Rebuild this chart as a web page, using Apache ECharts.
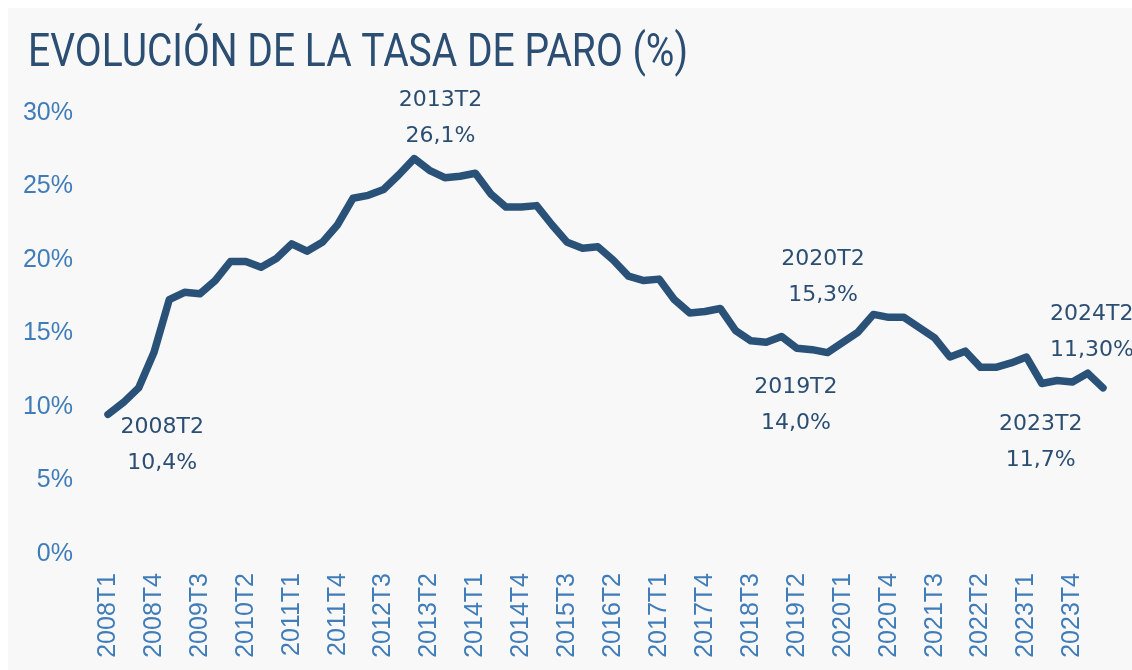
<!DOCTYPE html>
<html>
<head>
<meta charset="utf-8">
<script src="https://cdn.jsdelivr.net/npm/echarts@6/dist/echarts.min.js"></script>
<style>
html,body{margin:0;padding:0;background:#ffffff;}
#chart{width:1132px;height:670px;}
</style>
</head>
<body>
<div id="chart"></div>
<script>
// ---- DATA ----
const titleText = 'EVOLUCIÓN DE LA TASA DE PARO (%)';
const quarters = [];
for (let y = 2008; y <= 2024; y++) {
  for (let q = 1; q <= 4; q++) {
    if (y === 2024 && q > 2) break;
    quarters.push(y + 'T' + q);
  }
}
const unemploymentRate = [
  9.5, 10.3, 11.3, 13.7, 17.3, 17.8, 17.7, 18.6,
  19.9, 19.9, 19.5, 20.1, 21.1, 20.6, 21.2, 22.4,
  24.2, 24.4, 24.8, 25.8, 26.9, 26.1, 25.6, 25.7,
  25.9, 24.5, 23.6, 23.6, 23.7, 22.4, 21.2, 20.8,
  20.9, 20.0, 18.9, 18.6, 18.7, 17.3, 16.4, 16.5,
  16.7, 15.2, 14.5, 14.4, 14.8, 14.0, 13.9, 13.7,
  14.4, 15.1, 16.3, 16.1, 16.1, 15.4, 14.7, 13.4,
  13.8, 12.7, 12.7, 13.0, 13.4, 11.6, 11.8, 11.7,
  12.3, 11.3
];
const yTicks = [0, 5, 10, 15, 20, 25, 30];
const annotationCats = ['2008T2', '2013T2', '2020T2', '2019T2', '2023T2', '2024T2'];
const annotationTexts = ['2008T2\n10,4%', '2013T2\n26,1%', '2020T2\n15,3%', '2019T2\n14,0%', '2023T2\n11,7%', '2024T2\n11,30%'];

// ---- PLACEMENT (styling, not data) ----
const annotationPlacement = [
  {y: 7.4, dx: 39, align: 'center'},
  {y: 29.65, dx: 11, align: 'center'},
  {y: 18.8, dx: -35, align: 'center'},
  {y: 10.15, dx: -1, align: 'center'},
  {y: 7.6, dx: -1, align: 'center'},
  {y: 15.1, dx: -53, align: 'left'}
];

const annColor = '#2b4e72';
const axisColor = '#3f7cb8';
const titleFont = '46px Roboto, "Liberation Sans", sans-serif';

// compress title horizontally to match condensed look
const mctx = document.createElement('canvas').getContext('2d');
mctx.font = titleFont;
const titleW = mctx.measureText(titleText).width;
const titleScale = 660 / titleW;

const chart = echarts.init(document.getElementById('chart'), null, {renderer: 'canvas'});
const markData = annotationCats.map((c, i) => ({
  coord: [c, annotationPlacement[i].y],
  label: {
    formatter: annotationTexts[i],
    offset: [annotationPlacement[i].dx, 0],
    align: annotationPlacement[i].align
  }
}));

chart.setOption({
  animation: false,
  backgroundColor: 'transparent',
  graphic: [{
    type: 'rect', left: 8, top: 8, z: -10, silent: true,
    shape: {width: 1124, height: 662},
    style: {fill: '#f8f8f8'}
  }, {
    type: 'text', x: 28, y: 54, scaleX: titleScale, silent: true, z: 10,
    style: {
      x: 0, y: 0, text: titleText, font: titleFont,
      fill: annColor, align: 'left', verticalAlign: 'middle'
    }
  }],
  grid: {left: 108, right: 29, top: 113, bottom: 116, containLabel: false},
  xAxis: {
    type: 'category',
    data: quarters,
    boundaryGap: false,
    axisLine: {show: false},
    axisTick: {show: false},
    splitLine: {show: false},
    axisLabel: {
      interval: 2, rotate: 90, margin: 19,
      color: axisColor, fontSize: 25,
      fontFamily: '"Liberation Sans", Arial, sans-serif'
    }
  },
  yAxis: {
    type: 'value',
    min: yTicks[0], max: yTicks[yTicks.length - 1], interval: 5,
    axisLine: {show: false},
    axisTick: {show: false},
    splitLine: {show: false},
    axisLabel: {
      margin: 35, color: axisColor, fontSize: 25,
      fontFamily: '"Liberation Sans", Arial, sans-serif',
      formatter: '{value}%'
    }
  },
  series: [{
    type: 'line',
    data: unemploymentRate,
    symbol: 'none',
    lineStyle: {color: '#2a5279', width: 7.5, join: 'round', cap: 'round'},
    z: 3,
    markPoint: {
      symbol: 'circle',
      symbolSize: 1,
      itemStyle: {color: 'rgba(0,0,0,0)'},
      silent: true,
      label: {
        show: true,
        position: 'inside',
        color: annColor,
        fontSize: 22,
        lineHeight: 36,
        fontFamily: '"DejaVu Sans", sans-serif'
      },
      data: markData
    }
  }]
});
</script>
</body>
</html>
